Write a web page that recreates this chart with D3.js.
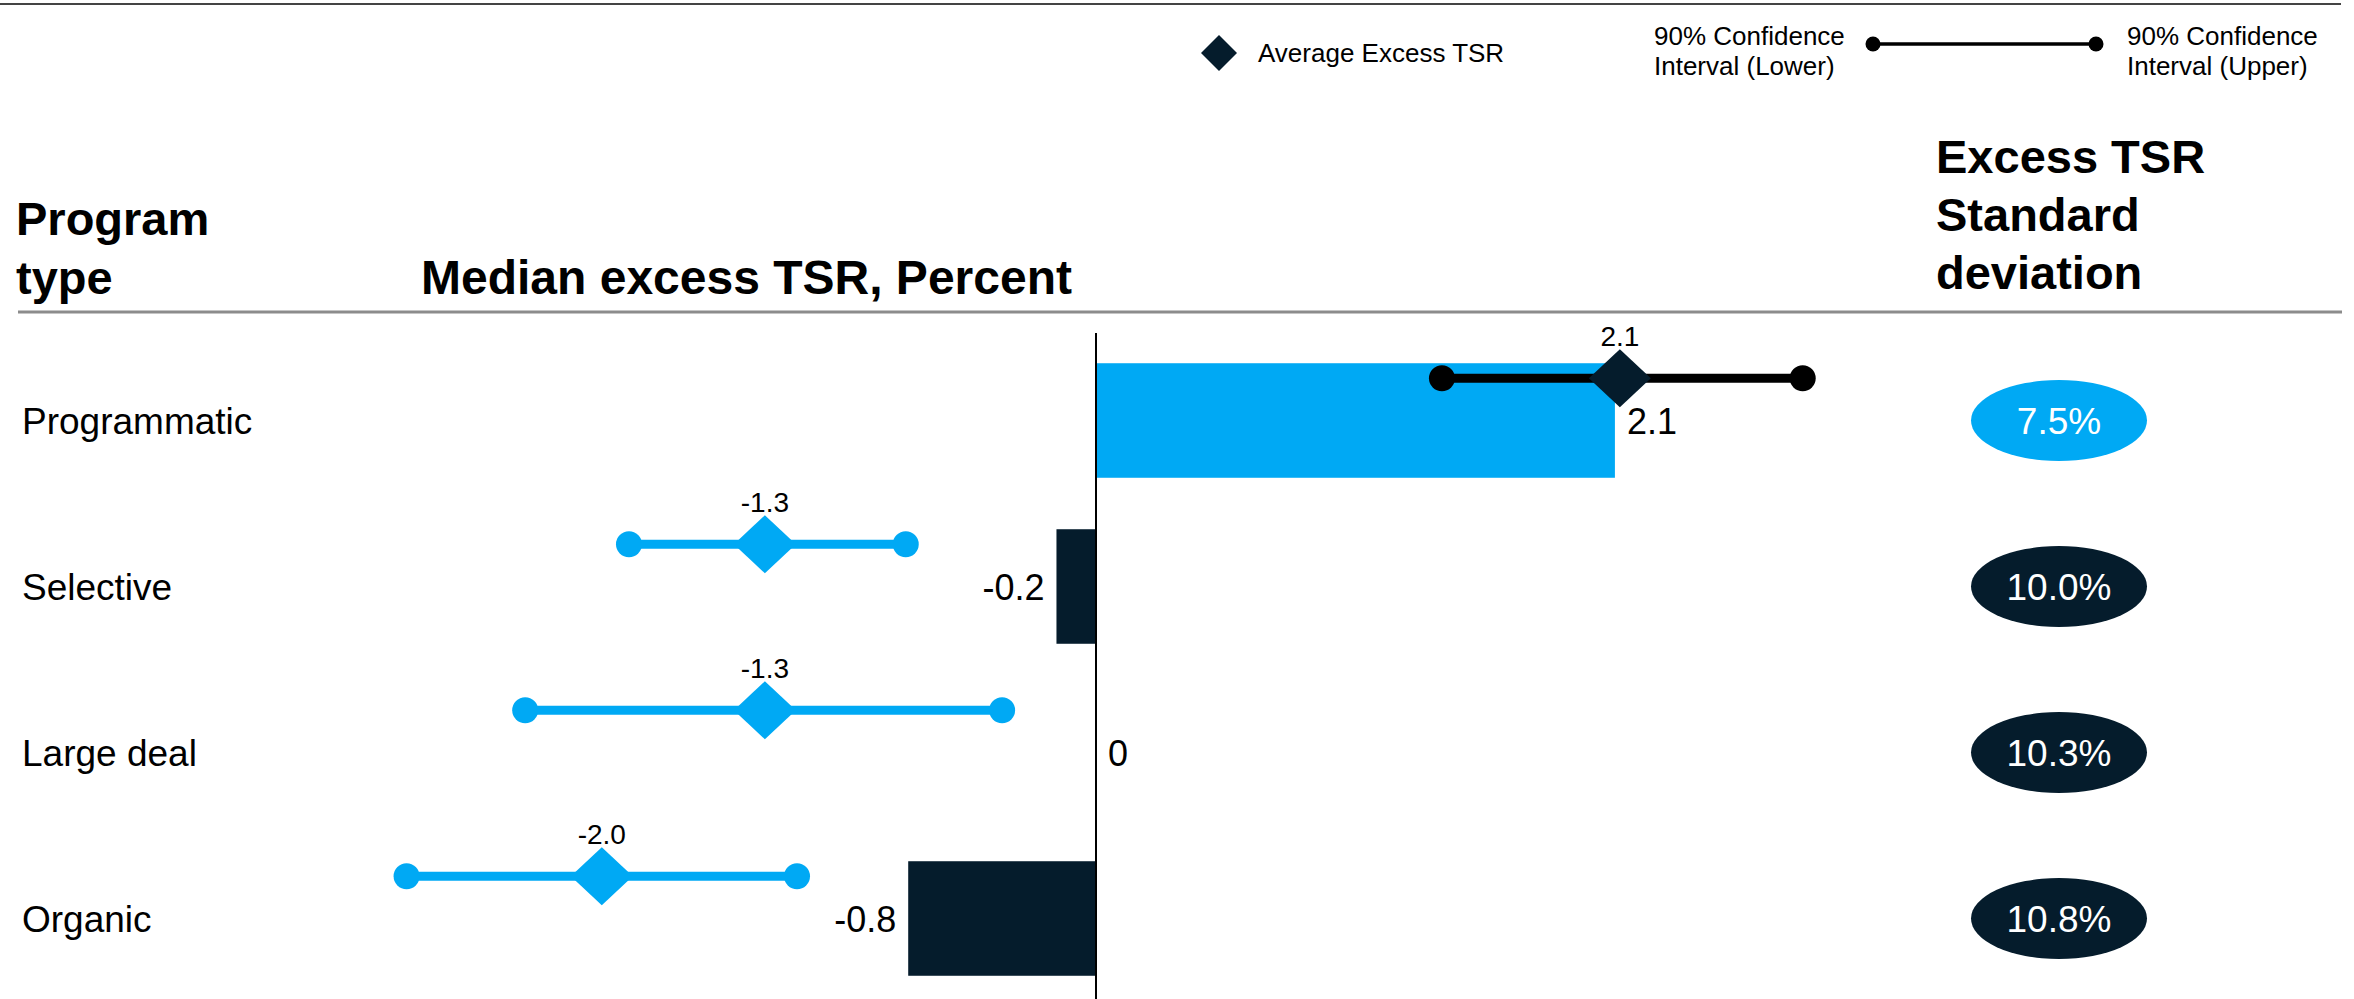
<!DOCTYPE html>
<html>
<head>
<meta charset="utf-8">
<script src="https://cdn.jsdelivr.net/npm/d3@7"></script>
<style>
  body { margin: 0; background: #fff; }
  text { font-family: "Liberation Sans", Arial, sans-serif; }
</style>
</head>
<body>
<script>
// data
var categories = ["Programmatic", "Selective", "Large deal", "Organic"];
var medianValues = [2.1, -0.16, 0, -0.76];
var averageValues = [2.12, -1.34, -1.34, -2.0];
var ciLower = [1.40, -1.89, -2.31, -2.79];
var ciUpper = [2.86, -0.77, -0.38, -1.21];
var stdDevValues = [7.5, 10.0, 10.3, 10.8];
var highlighted = ["Programmatic"];

var blue = "#00A9F4",
    navy = "#051C2C";

var width = 2354, height = 999;

var svg = d3.select("body").append("svg")
    .attr("width", width)
    .attr("height", height)
    .style("display", "block");

svg.append("rect").attr("width", width).attr("height", height).attr("fill", "#fff");

var x = d3.scaleLinear().domain([-3, 3]).range([354.7, 1837.3]);
var y = d3.scaleBand().domain(categories).range([337.5, 1001.5])
    .paddingInner(0.31).paddingOuter(0.155);

var rows = categories.map(function(c, i) {
    return {
        cat: c,
        median: medianValues[i],
        avg: averageValues[i],
        lo: ciLower[i],
        hi: ciUpper[i],
        sd: stdDevValues[i],
        hl: highlighted.indexOf(c) >= 0
    };
});

function diamond(hw, hh) {
    return "M0," + (-hh) + "L" + hw + ",0L0," + hh + "L" + (-hw) + ",0Z";
}
function fmt(v) { return v === 0 ? "0" : v.toFixed(1); }

// top rule + header rule
svg.append("line").attr("x1", 0).attr("x2", 2341).attr("y1", 4).attr("y2", 4)
    .attr("stroke", "#444").attr("stroke-width", 2);
svg.append("line").attr("x1", 18).attr("x2", 2342).attr("y1", 312).attr("y2", 312)
    .attr("stroke", "#8c8c8c").attr("stroke-width", 3);

// legend
var legend = svg.append("g");
legend.append("path").attr("d", diamond(18, 18))
    .attr("transform", "translate(1219,53)").attr("fill", navy);
legend.append("text").attr("x", 1258).attr("y", 62).attr("font-size", 26)
    .text("Average Excess TSR");
legend.append("text").attr("x", 1654).attr("y", 45).attr("font-size", 26).text("90% Confidence");
legend.append("text").attr("x", 1654).attr("y", 75).attr("font-size", 26).text("Interval (Lower)");
legend.append("line").attr("x1", 1873).attr("x2", 2096).attr("y1", 44).attr("y2", 44)
    .attr("stroke", "#000").attr("stroke-width", 3.5);
legend.selectAll("circle").data([1873, 2096]).enter().append("circle")
    .attr("cx", function(d) { return d; }).attr("cy", 44).attr("r", 7.5).attr("fill", "#000");
legend.append("text").attr("x", 2127).attr("y", 45).attr("font-size", 26).text("90% Confidence");
legend.append("text").attr("x", 2127).attr("y", 75).attr("font-size", 26).text("Interval (Upper)");

// headers
var hdr = svg.append("g").attr("font-weight", "bold").attr("font-size", 47).attr("fill", "#000");
hdr.append("text").attr("x", 16).attr("y", 235).text("Program");
hdr.append("text").attr("x", 16).attr("y", 294).text("type");
hdr.append("text").attr("x", 421).attr("y", 294).attr("font-size", 48).text("Median excess TSR, Percent");
hdr.append("text").attr("x", 1936).attr("y", 173).text("Excess TSR");
hdr.append("text").attr("x", 1936).attr("y", 231).text("Standard");
hdr.append("text").attr("x", 1936).attr("y", 289).text("deviation");

// row labels
svg.append("g").selectAll("text").data(rows).enter().append("text")
    .attr("x", 22)
    .attr("y", function(d) { return y(d.cat) + y.bandwidth() / 2 + 1; })
    .attr("dy", "0.35em")
    .attr("font-size", 37)
    .text(function(d) { return d.cat; });

// bars
svg.append("g").selectAll("rect").data(rows).enter().append("rect")
    .attr("x", function(d) { return x(Math.min(0, d.median)); })
    .attr("y", function(d) { return y(d.cat); })
    .attr("width", function(d) { return Math.abs(x(d.median) - x(0)); })
    .attr("height", y.bandwidth())
    .attr("fill", function(d) { return d.hl ? blue : navy; });

// zero axis
svg.append("line").attr("x1", x(0)).attr("x2", x(0)).attr("y1", 333).attr("y2", height)
    .attr("stroke", "#000").attr("stroke-width", 2);

// bar value labels
svg.append("g").selectAll("text").data(rows).enter().append("text")
    .attr("x", function(d) { return d.median < 0 ? x(d.median) - 12 : x(d.median) + 12; })
    .attr("y", function(d) { return y(d.cat) + y.bandwidth() / 2 + 1; })
    .attr("dy", "0.35em")
    .attr("text-anchor", function(d) { return d.median < 0 ? "end" : "start"; })
    .attr("font-size", 36)
    .text(function(d) { return fmt(d.median); });

// confidence intervals + averages
var ci = svg.append("g").selectAll("g").data(rows).enter().append("g")
    .attr("transform", function(d) { return "translate(0," + (y(d.cat) + 15) + ")"; });
ci.append("line")
    .attr("x1", function(d) { return x(d.lo); })
    .attr("x2", function(d) { return x(d.hi); })
    .attr("stroke", function(d) { return d.hl ? "#000" : blue; })
    .attr("stroke-width", 9);
ci.append("circle").attr("cx", function(d) { return x(d.lo); }).attr("r", 13)
    .attr("fill", function(d) { return d.hl ? "#000" : blue; });
ci.append("circle").attr("cx", function(d) { return x(d.hi); }).attr("r", 13)
    .attr("fill", function(d) { return d.hl ? "#000" : blue; });
ci.append("path")
    .attr("d", diamond(31, 29))
    .attr("transform", function(d) { return "translate(" + x(d.avg) + ",0)"; })
    .attr("fill", function(d) { return d.hl ? navy : blue; });
ci.append("text")
    .attr("x", function(d) { return x(d.avg); })
    .attr("y", -32)
    .attr("text-anchor", "middle")
    .attr("font-size", 28)
    .text(function(d) { return fmt(d.avg); });

// standard deviation badges
var sd = svg.append("g").selectAll("g").data(rows).enter().append("g")
    .attr("transform", function(d) { return "translate(2059," + (y(d.cat) + y.bandwidth() / 2) + ")"; });
sd.append("ellipse").attr("rx", 88).attr("ry", 40.5)
    .attr("fill", function(d) { return d.hl ? blue : navy; });
sd.append("text")
    .attr("y", 1)
    .attr("dy", "0.35em")
    .attr("text-anchor", "middle")
    .attr("font-size", 37)
    .attr("fill", "#fff")
    .text(function(d) { return d.sd.toFixed(1) + "%"; });
</script>
</body>
</html>
